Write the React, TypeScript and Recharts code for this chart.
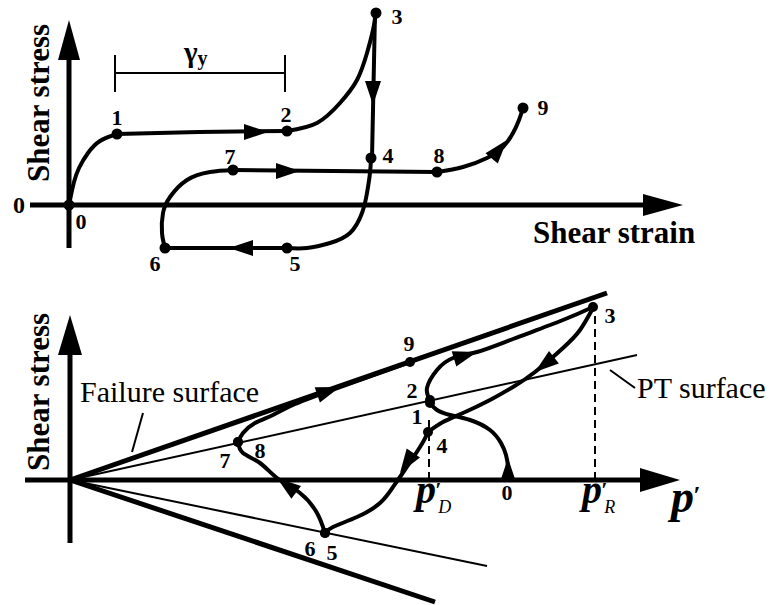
import React from 'react';
import { ComposedChart, Line, Scatter, XAxis, YAxis, ReferenceLine } from 'recharts';

const FONT = '"Liberation Serif", "Times New Roman", serif';

// Top panel: shear stress vs shear strain (schematic units, origin at the axis cross)
const strainLoad01 = [{ x: 0, y: 0 }, { x: 2, y: 10 }, { x: 5, y: 23 }, { x: 10, y: 37 }, { x: 19, y: 52 }, { x: 31, y: 64 }, { x: 48, y: 71 }];
const strainFlow12 = [{ x: 48, y: 71 }, { x: 130, y: 73 }, { x: 218, y: 74 }];
const strainHarden23 = [{ x: 218, y: 74 }, { x: 248, y: 82 }, { x: 271, y: 102 }, { x: 288, y: 125 }, { x: 298, y: 152 }, { x: 304, y: 175 }, { x: 307, y: 192 }];
const strainUnload34 = [{ x: 306, y: 192 }, { x: 303, y: 47 }];
const strainReverse45 = [{ x: 302, y: 47 }, { x: 301, y: 32 }, { x: 298, y: 12 }, { x: 293, y: -8 }, { x: 281, y: -28 }, { x: 261, y: -38 }, { x: 238, y: -43 }, { x: 218, y: -43 }];
const strainFlow56 = [{ x: 218, y: -43 }, { x: 96, y: -43 }];
const strainReload67 = [{ x: 96, y: -43 }, { x: 93, y: -28 }, { x: 94, y: -8 }, { x: 101, y: 8 }, { x: 118, y: 25 }, { x: 141, y: 33 }, { x: 164, y: 35 }];
const strainFlow78 = [{ x: 164, y: 35 }, { x: 368, y: 33 }];
const strainHarden89 = [{ x: 368, y: 33 }, { x: 394, y: 38 }, { x: 418, y: 47 }, { x: 434, y: 58 }, { x: 444, y: 72 }, { x: 450, y: 85 }, { x: 454, y: 97 }];
const strainSegments = [strainLoad01, strainFlow12, strainHarden23, strainUnload34, strainReverse45, strainFlow56, strainReload67, strainFlow78, strainHarden89];

const strainPoints = [
  { x: 0, y: 0, id: '0' }, { x: 48, y: 71, id: '1' }, { x: 218, y: 74, id: '2' }, { x: 307, y: 192, id: '3' },
  { x: 302, y: 47, id: '4' }, { x: 218, y: -43, id: '5' }, { x: 96, y: -43, id: '6' }, { x: 164, y: 35, id: '7' },
  { x: 368, y: 33, id: '8' }, { x: 454, y: 97, id: '9' },
];
const strainArrows = [
  { x: 199, y: 73, dx: 1, dy: 0 }, { x: 304, y: 100, dx: 0, dy: -1 }, { x: 160, y: -43, dx: -1, dy: 0 },
  { x: 231, y: 34, dx: 1, dy: 0 }, { x: 438, y: 65, dx: 1, dy: 1.2 },
];
const strainAxisTips = [{ x: 0, y: 185, dx: 0, dy: 1 }, { x: 614, y: 0, dx: 1, dy: 0 }];
const gammaY = [46, 216];

// Bottom panel: stress path in p'-shear stress space
const failureUpper = [{ x: 0, y: 0 }, { x: 537, y: 187 }];
const failureLower = [{ x: 0, y: 0 }, { x: 365, y: -122 }];
const ptUpper = [{ x: 0, y: 0 }, { x: 567, y: 125 }];
const ptLower = [{ x: 0, y: 0 }, { x: 417, y: -86 }];

const path01 = [{ x: 437, y: 0 }, { x: 438, y: 12 }, { x: 436, y: 25 }, { x: 431, y: 37 }, { x: 420, y: 50 }, { x: 400, y: 60 }, { x: 380, y: 65 }, { x: 367, y: 70 }, { x: 360, y: 77 }];
const path23 = [{ x: 360, y: 80 }, { x: 357, y: 92 }, { x: 367, y: 110 }, { x: 383, y: 122 }, { x: 407, y: 128 }, { x: 443, y: 141 }, { x: 493, y: 160 }, { x: 523, y: 173 }];
const path34 = [{ x: 523, y: 172 }, { x: 510, y: 150 }, { x: 493, y: 132 }, { x: 465, y: 108 }, { x: 443, y: 93 }, { x: 420, y: 80 }, { x: 393, y: 67 }, { x: 373, y: 58 }, { x: 358, y: 48 }];
const path45 = [{ x: 358, y: 48 }, { x: 350, y: 33 }, { x: 330, y: 3 }, { x: 323, y: -7 }, { x: 310, y: -23 }, { x: 287, y: -37 }, { x: 263, y: -47 }, { x: 255, y: -53 }];
const path67 = [{ x: 255, y: -53 }, { x: 247, y: -33 }, { x: 230, y: -13 }, { x: 207, y: 2 }, { x: 190, y: 17 }, { x: 173, y: 27 }, { x: 168, y: 38 }];
const path89 = [{ x: 168, y: 38 }, { x: 173, y: 47 }, { x: 185, y: 57 }, { x: 203, y: 65 }, { x: 225, y: 76 }, { x: 270, y: 93 }, { x: 340, y: 118 }];
const pathSegments = [path01, path23, path34, path45, path67, path89];

const pathPoints = [
  { x: 437, y: 0, id: '0' }, { x: 360, y: 77, id: '1' }, { x: 360, y: 80, id: '2' }, { x: 523, y: 173, id: '3' },
  { x: 358, y: 48, id: '4' }, { x: 255, y: -53, id: '5' }, { x: 255, y: -53, id: '6' }, { x: 168, y: 38, id: '7' },
  { x: 168, y: 38, id: '8' }, { x: 340, y: 118, id: '9' },
];
const pathArrows = [
  { x: 438, y: 22, dx: 0, dy: 1 }, { x: 407, y: 128, dx: 1, dy: 0.3 }, { x: 465, y: 108, dx: -1, dy: -0.78 },
  { x: 330, y: 7, dx: -0.67, dy: -1 }, { x: 207, y: 2, dx: -1, dy: 0.75 }, { x: 270, y: 93, dx: 1, dy: 0.345 },
];
const pathAxisTips = [{ x: 0, y: 165, dx: 0, dy: 1 }, { x: 610, y: 0, dx: 1, dy: 0 }];
const pD = 359;
const pR = 525;

// label placement (screen px from the dot)
const strainLabelOffset: Record<string, [number, number]> = {
  '0': [12, 16], '1': [0, -17], '2': [-1, -17], '3': [21, 3], '4': [17, -3],
  '5': [8, 15], '6': [-10, 15], '7': [-3, -14], '8': [2, -17], '9': [20, -1],
};
const pathLabelOffset: Record<string, [number, number]> = {
  '0': [0, 12], '1': [-13, 13], '2': [-18, -10], '3': [17, 8], '4': [14, 13],
  '5': [7, 19], '6': [-15, 15], '7': [-13, 18], '8': [22, 8], '9': [-1, -19],
};

const arrowShape = (len: number, half: number) => (p: any) => {
  const { cx, cy, payload } = p;
  const a = Math.atan2(-payload.dy, payload.dx);
  const ux = Math.cos(a), uy = Math.sin(a);
  const bx = cx - ux * len, by = cy - uy * len;
  const pts = `${cx},${cy} ${bx - uy * half},${by + ux * half} ${bx + uy * half},${by - ux * half}`;
  return <polygon points={pts} fill="#000" />;
};

const pointShape = (offsets: Record<string, [number, number]>, r: number, noDot: string[]) => (p: any) => {
  const { cx, cy, payload } = p;
  const [dx, dy] = offsets[payload.id];
  return (
    <g>
      {!noDot.includes(payload.id) && <circle cx={cx} cy={cy} r={r} fill="#000" />}
      <text x={cx + dx} y={cy + dy} textAnchor="middle" dominantBaseline="central"
        fontFamily={FONT} fontWeight="bold" fontSize={22} fill="#000">{payload.id}</text>
    </g>
  );
};

const note = (key: string, x: number, y: number, draw: (cx: number, cy: number) => React.ReactNode) => (
  <Scatter key={key} data={[{ x, y }]} isAnimationActive={false} shape={(p: any) => <g>{draw(p.cx, p.cy)}</g>} />
);

const txt = { fontFamily: FONT, fill: '#000' };

// p' with prime and subscript, as one text element
const pTick = (cx: number, cy: number, sub: string) => (
  <text {...txt} x={cx - 13} y={cy + 23} fontWeight="bold" fontStyle="italic" fontSize={40}>
    p<tspan fontSize={22} dx={-1} dy={-6}>′</tspan>
    <tspan fontSize={18} fontWeight="normal" dx={-3} dy={16}>{sub}</tspan>
  </text>
);

const App = () => {
  return (
    <div style={{ position: 'absolute', left: 0, top: 0, width: 774, height: 605, background: '#fff' }}>
      <div style={{ position: 'absolute', left: 0, top: 0 }}>
        <ComposedChart width={774} height={275} margin={{ top: 0, right: 0, bottom: 0, left: 0 }}>
          <XAxis type="number" dataKey="x" domain={[-69, 705]} allowDataOverflow hide />
          <YAxis type="number" dataKey="y" domain={[-70, 205]} allowDataOverflow hide />
          <ReferenceLine segment={[{ x: 0, y: -43 }, { x: 0, y: 160 }]} stroke="#000" strokeWidth={5} ifOverflow="visible" />
          <ReferenceLine segment={[{ x: -39, y: 0 }, { x: 590, y: 0 }]} stroke="#000" strokeWidth={5} ifOverflow="visible" />
          <ReferenceLine segment={[{ x: gammaY[0], y: 132 }, { x: gammaY[1], y: 132 }]} stroke="#000" strokeWidth={2} ifOverflow="visible" />
          <ReferenceLine segment={[{ x: gammaY[0], y: 113 }, { x: gammaY[0], y: 150 }]} stroke="#000" strokeWidth={2} ifOverflow="visible" />
          <ReferenceLine segment={[{ x: gammaY[1], y: 113 }, { x: gammaY[1], y: 150 }]} stroke="#000" strokeWidth={2} ifOverflow="visible" />
          {strainSegments.map((seg, i) => (
            <Line key={`s${i}`} data={seg} dataKey="y" type={seg.length > 2 ? 'natural' : 'linear'} stroke="#000"
              strokeWidth={4} strokeLinecap="round" dot={false} activeDot={false} isAnimationActive={false} />
          ))}
          <Scatter data={strainArrows} shape={arrowShape(24, 8)} isAnimationActive={false} />
          <Scatter data={strainAxisTips} shape={arrowShape(40, 11)} isAnimationActive={false} />
          <Scatter data={strainPoints} shape={pointShape(strainLabelOffset, 5.5, [])} isAnimationActive={false} />
          {note('ys', -31, 102, (cx, cy) => (
            <text {...txt} x={cx} y={cy} transform={`rotate(-90 ${cx} ${cy})`} textAnchor="middle" dominantBaseline="central" fontWeight="bold" fontSize={31}>Shear stress</text>
          ))}
          {note('xs', 464, -38, (cx, cy) => (
            <text {...txt} x={cx} y={cy} fontWeight="bold" fontSize={31}>Shear strain</text>
          ))}
          {note('zero', -50, 0, (cx, cy) => (
            <text {...txt} x={cx} y={cy} textAnchor="middle" dominantBaseline="central" fontWeight="bold" fontSize={24}>0</text>
          ))}
          {note('gy', (gammaY[0] + gammaY[1]) / 2, 132, (cx, cy) => (
            <text {...txt} x={cx - 16} y={cy - 11} fontWeight="bold" fontSize={29}>
              γ<tspan fontSize={20} dy={3}>y</tspan>
            </text>
          ))}
        </ComposedChart>
      </div>
      <div style={{ position: 'absolute', left: 0, top: 275 }}>
        <ComposedChart width={774} height={330} margin={{ top: 0, right: 0, bottom: 0, left: 0 }}>
          <XAxis type="number" dataKey="x" domain={[-70, 704]} allowDataOverflow hide />
          <YAxis type="number" dataKey="y" domain={[-125, 205]} allowDataOverflow hide />
          <ReferenceLine segment={[{ x: 0, y: -63 }, { x: 0, y: 140 }]} stroke="#000" strokeWidth={5} ifOverflow="visible" />
          <ReferenceLine segment={[{ x: -45, y: 0 }, { x: 585, y: 0 }]} stroke="#000" strokeWidth={5} ifOverflow="visible" />
          <ReferenceLine segment={[{ x: pD, y: 0 }, { x: pD, y: 63 }]} stroke="#000" strokeWidth={2} strokeDasharray="8 5" ifOverflow="visible" />
          <ReferenceLine segment={[{ x: pR, y: 0 }, { x: pR, y: 167 }]} stroke="#000" strokeWidth={2} strokeDasharray="8 5" ifOverflow="visible" />
          <ReferenceLine segment={[{ x: 73, y: 67 }, { x: 62, y: 28 }]} stroke="#000" strokeWidth={2} ifOverflow="visible" />
          <ReferenceLine segment={[{ x: 540, y: 110 }, { x: 565, y: 92 }]} stroke="#000" strokeWidth={2} ifOverflow="visible" />
          {[failureUpper, failureLower].map((seg, i) => (
            <Line key={`f${i}`} data={seg} dataKey="y" type="linear" stroke="#000" strokeWidth={5} dot={false} activeDot={false} isAnimationActive={false} />
          ))}
          {[ptUpper, ptLower].map((seg, i) => (
            <Line key={`p${i}`} data={seg} dataKey="y" type="linear" stroke="#000" strokeWidth={2} dot={false} activeDot={false} isAnimationActive={false} />
          ))}
          {pathSegments.map((seg, i) => (
            <Line key={`q${i}`} data={seg} dataKey="y" type="natural" stroke="#000"
              strokeWidth={4} strokeLinecap="round" dot={false} activeDot={false} isAnimationActive={false} />
          ))}
          <Scatter data={pathArrows} shape={arrowShape(24, 8)} isAnimationActive={false} />
          <Scatter data={pathAxisTips} shape={arrowShape(40, 12)} isAnimationActive={false} />
          <Scatter data={pathPoints} shape={pointShape(pathLabelOffset, 5, ['0'])} isAnimationActive={false} />
          {note('ys2', -32, 88, (cx, cy) => (
            <text {...txt} x={cx} y={cy} transform={`rotate(-90 ${cx} ${cy})`} textAnchor="middle" dominantBaseline="central" fontWeight="bold" fontSize={31}>Shear stress</text>
          ))}
          {note('fs', 10, 78, (cx, cy) => (
            <text {...txt} x={cx} y={cy} fontSize={30}>Failure surface</text>
          ))}
          {note('pt', 567, 82, (cx, cy) => (
            <text {...txt} x={cx} y={cy} fontSize={30}>PT surface</text>
          ))}
          {note('pd', pD, 0, (cx, cy) => pTick(cx, cy, 'D'))}
          {note('pr', pR, 0, (cx, cy) => pTick(cx, cy, 'R'))}
          {note('pp', 610, 0, (cx, cy) => (
            <text {...txt} x={cx - 9} y={cy + 32} fontWeight="bold" fontStyle="italic" fontSize={46}>
              p<tspan fontSize={26} dx={-1} dy={-8}>′</tspan>
            </text>
          ))}
        </ComposedChart>
      </div>
    </div>
  );
};

export default App;
